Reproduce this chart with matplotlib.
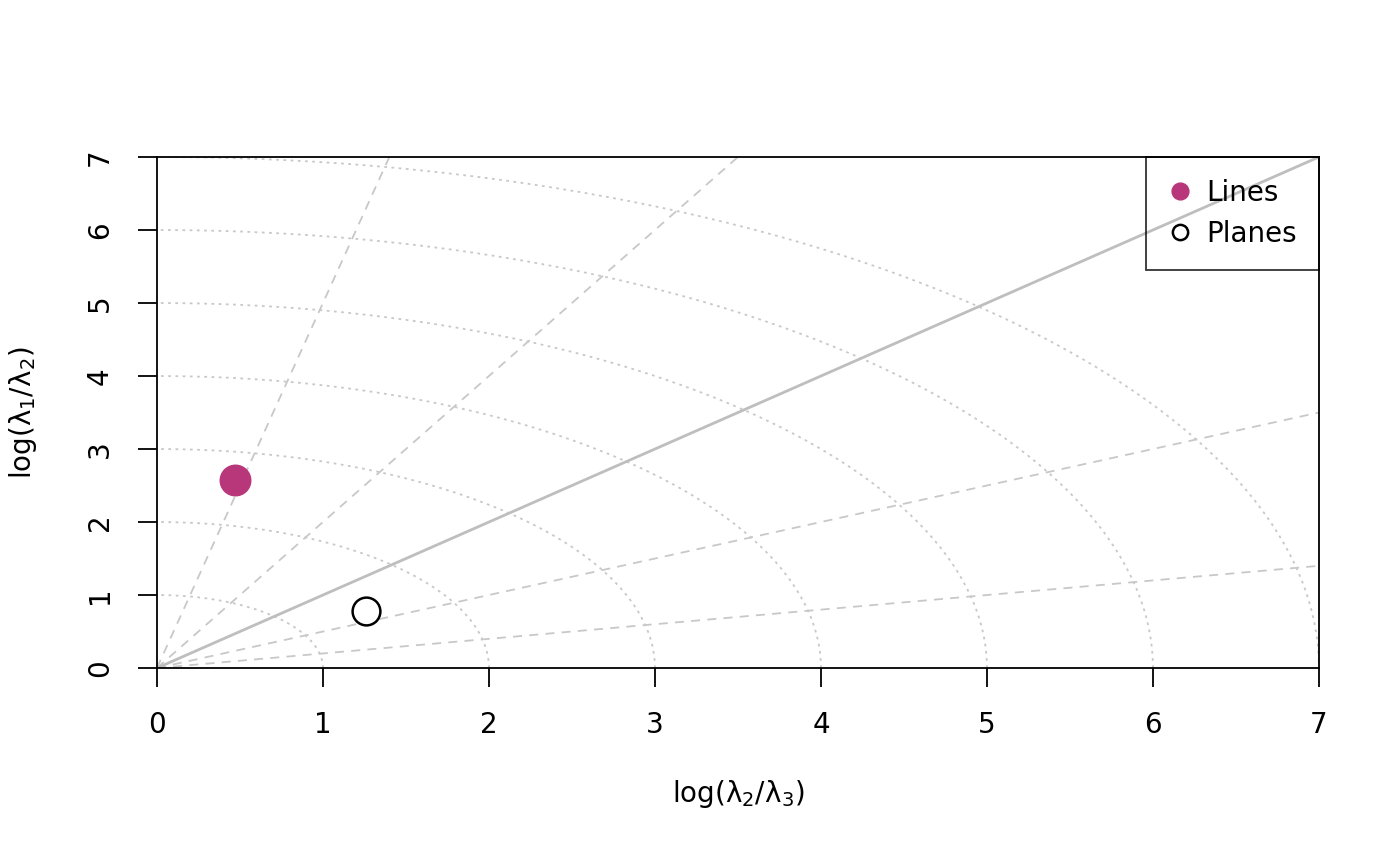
import numpy as np
import matplotlib
matplotlib.use("Agg")
import matplotlib.pyplot as plt

# Woodcock-style diagram data
lines_x = [0.47]
lines_y = [2.575]
planes_x = [1.257]
planes_y = [0.775]
radii = [1, 2, 3, 4, 5, 6, 7]
guide_slopes = [5, 2, 0.5, 0.2]
ticks = [0, 1, 2, 3, 4, 5, 6, 7]

plt.rcParams['mathtext.fontset'] = 'dejavusans'
plt.rcParams['mathtext.default'] = 'regular'

fig = plt.figure(figsize=(14, 8.65), dpi=100)
ax = fig.add_axes([0.1121, 0.2277, 0.83, 0.5908])

grey = '#c8c8c8'
theta = np.linspace(0, np.pi / 2, 200)
for r in radii:
    ax.plot(r * np.cos(theta), r * np.sin(theta), color=grey, lw=1.3,
            linestyle=(0, (1.5, 2.5)), zorder=1)

xs = np.array([0, 7])
for k in guide_slopes:
    ax.plot(xs, k * xs, color=grey, lw=1.3, linestyle=(0, (5, 4)), zorder=1)
ax.plot(xs, xs, color='#bebebe', lw=2, zorder=1)

ax.plot(lines_x, lines_y, 'o', color='#b8377a', markersize=22, zorder=3,
        label='Lines')
ax.plot(planes_x, planes_y, 'o', mfc='white', mec='black', mew=1.8,
        markersize=20, zorder=3, label='Planes')

ax.set_xlim(0, 7)
ax.set_ylim(0, 7)
ax.set_xticks(ticks)
ax.set_yticks(ticks)
ax.tick_params(labelsize=20, length=14, width=1.3, pad=17)
for lab in ax.get_yticklabels():
    lab.set_rotation(90)
    lab.set_va('center')
for s in ax.spines.values():
    s.set_linewidth(1.3)

ax.set_xlabel(r'log($\lambda_2/\lambda_3$)', fontsize=20, labelpad=28)
ax.set_ylabel(r'log($\lambda_1/\lambda_2$)', fontsize=20, labelpad=34)

# legend box is see-through, the 1:1 line shows through it
leg = ax.legend(loc='upper right', fontsize=20, markerscale=0.55,
                handlelength=0.8, handletextpad=0.55, borderpad=0.8,
                labelspacing=0.45, fancybox=False, facecolor='none',
                edgecolor='black', borderaxespad=0)
leg.get_frame().set_linewidth(1.3)

fig.savefig('out.png', dpi=100)
